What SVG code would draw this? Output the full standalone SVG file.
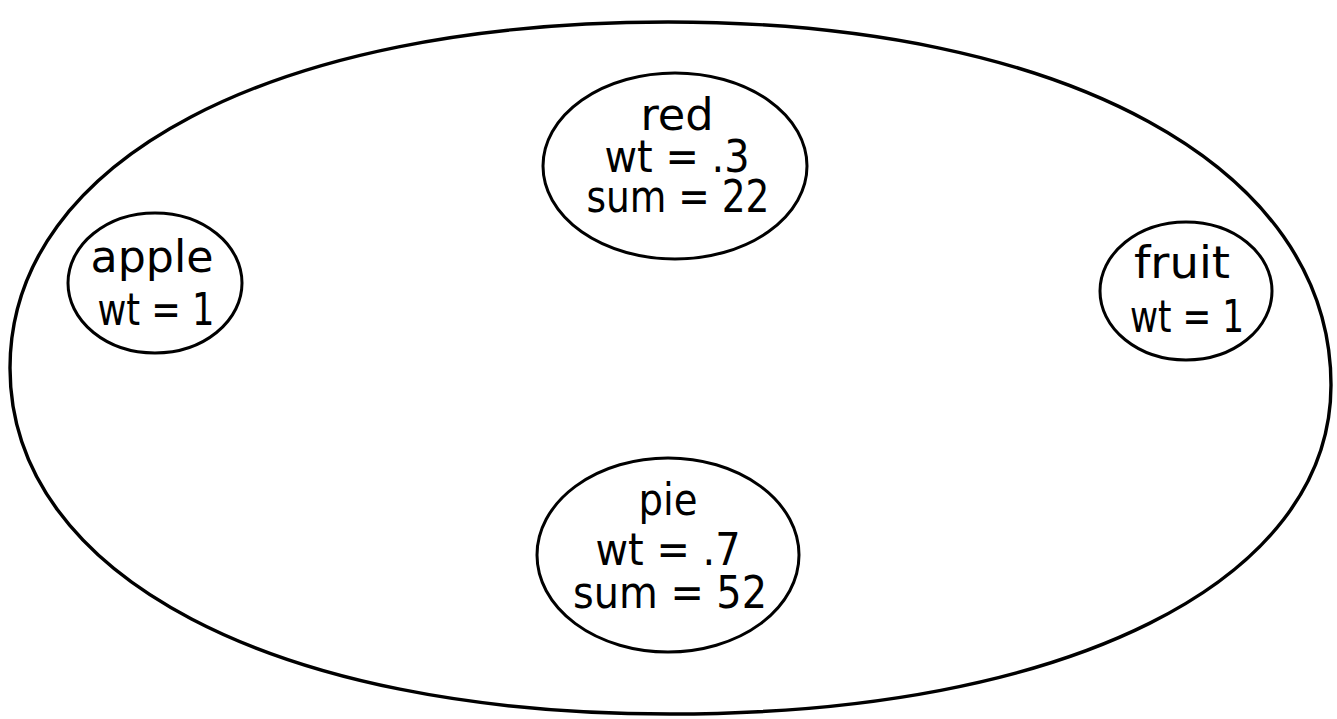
<svg xmlns="http://www.w3.org/2000/svg" width="1337" height="719" viewBox="0 0 1337 719">
<style>
.bg{fill:#fff}
.outline{fill:none;stroke:#000;stroke-width:3.4;stroke-linejoin:round}
.node{fill:none;stroke:#000;stroke-width:3}
.t{font-family:"DejaVu Sans Condensed","DejaVu Sans",sans-serif;font-size:44px;fill:#000;text-anchor:middle}
</style>
<rect class="bg" width="1337" height="719"/>
<g id="domain">
<path class="outline" d="M 668 22 C 1066 22 1331 167 1331 385 C 1331 582 1067 714 670 714 C 274 714 10 576 10 368 C 10 160 273 22 668 22 Z"/>
</g>
<g id="connectors"></g>
<g id="node-red">
<ellipse class="node" cx="675" cy="166" rx="132" ry="93"/>
<text class="t" x="677" y="130" textLength="73" lengthAdjust="spacingAndGlyphs">red</text>
<text class="t" x="677" y="172" textLength="145" lengthAdjust="spacingAndGlyphs">wt = .3</text>
<text class="t" x="678" y="212" textLength="183" lengthAdjust="spacingAndGlyphs">sum = 22</text>
</g>
<g id="node-apple">
<ellipse class="node" cx="155" cy="283" rx="87" ry="70"/>
<text class="t" x="152" y="272" textLength="123" lengthAdjust="spacingAndGlyphs">apple</text>
<text class="t" x="156" y="325" textLength="117" lengthAdjust="spacingAndGlyphs">wt = 1</text>
</g>
<g id="node-fruit">
<ellipse class="node" cx="1186" cy="291" rx="86" ry="69"/>
<text class="t" x="1182" y="278" textLength="96" lengthAdjust="spacingAndGlyphs">fruit</text>
<text class="t" x="1187" y="332" textLength="114" lengthAdjust="spacingAndGlyphs">wt = 1</text>
</g>
<g id="node-pie">
<ellipse class="node" cx="668" cy="555" rx="131" ry="97"/>
<text class="t" x="668" y="515" textLength="59" lengthAdjust="spacingAndGlyphs">pie</text>
<text class="t" x="668" y="565" textLength="145" lengthAdjust="spacingAndGlyphs">wt = .7</text>
<text class="t" x="670" y="608" textLength="194" lengthAdjust="spacingAndGlyphs">sum = 52</text>
</g>
</svg>
